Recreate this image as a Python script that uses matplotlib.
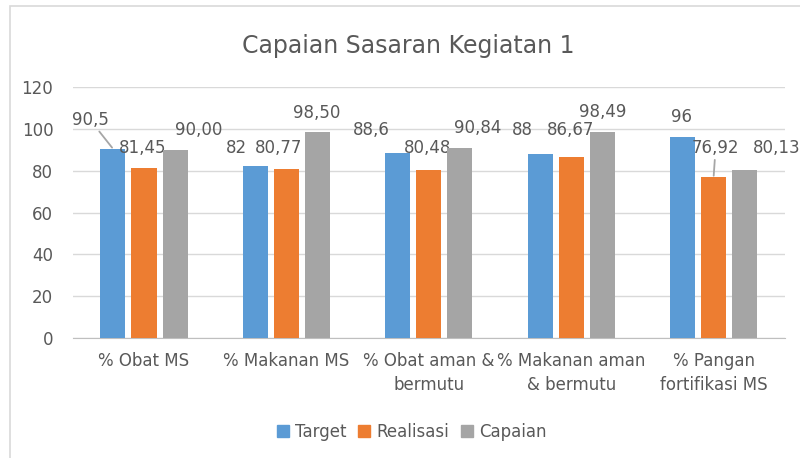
import matplotlib
matplotlib.use("Agg")
import matplotlib.pyplot as plt
from matplotlib.patches import Patch, Rectangle
import numpy as np

categories = ["% Obat MS", "% Makanan MS", "% Obat aman &\nbermutu",
              "% Makanan aman\n& bermutu", "% Pangan\nfortifikasi MS"]
target = [90.5, 82, 88.6, 88, 96]
realisasi = [81.45, 80.77, 80.48, 86.67, 76.92]
capaian = [90.00, 98.50, 90.84, 98.49, 80.13]
series_names = ["Target", "Realisasi", "Capaian"]

colors = ["#5b9bd5", "#ed7d31", "#a5a5a5"]
txt = "#595959"

# label offsets in pixels (dx, dy) from bar top, per series per group
offsets = [
    [(-23, 29), (-19, 18), (-26, 23), (-18, 24), (-1, 20)],
    [(-1, 20), (-8, 21), (-1, 22), (-1, 27), (2, 29)],
    [(24, 20), (-1, 19), (18, 20), (0, 20), (32, 22)],
]
leader = {(0, 0), (1, 4)}


def fmt(v, dec):
    if dec:
        s = "%.2f" % v
    else:
        s = ("%g" % v)
    return s.replace(".", ",")


fig = plt.figure(figsize=(8, 4.58), dpi=100)
ax = fig.add_axes([0.091, 0.262, 0.890, 0.548])

x = np.arange(len(categories))
w = 0.176
step = 0.218
data = [target, realisasi, capaian]
for i, vals in enumerate(data):
    ax.bar(x + (i - 1) * step, vals, w, color=colors[i], zorder=3)
    for j, v in enumerate(vals):
        dx, dy = offsets[i][j]
        kw = {}
        if (i, j) in leader:
            kw["arrowprops"] = dict(arrowstyle="-", color="#a6a6a6", lw=1.3,
                                    shrinkA=0, shrinkB=1)
        ax.annotate(fmt(v, i > 0), (x[j] + (i - 1) * step, v),
                    xytext=(dx, dy), textcoords="offset pixels",
                    ha="center", va="center", fontsize=12, color=txt, **kw)

ax.set_xlim(-0.5, 4.5)
ax.set_ylim(0, 120)
ax.set_yticks(range(0, 121, 20))
ax.yaxis.grid(True, color="#d9d9d9", lw=1, zorder=0)
ax.set_xticks(x)
ax.set_xticklabels(categories, linespacing=1.45)
ax.tick_params(axis="x", length=0, pad=10, labelsize=12, labelcolor=txt)
ax.tick_params(axis="y", length=0, pad=14, labelsize=12, labelcolor=txt)
for s in ["top", "right", "left"]:
    ax.spines[s].set_visible(False)
ax.spines["bottom"].set_color("#bfbfbf")

fig.text(0.51, 0.9, "Capaian Sasaran Kegiatan 1", ha="center", va="center",
         fontsize=17, color=txt)

handles = [Patch(color=c) for c in colors]
fig.legend(handles, series_names, loc="center", bbox_to_anchor=(0.515, 0.057),
           ncol=3, frameon=False, fontsize=12, handlelength=0.7,
           handleheight=0.7, handletextpad=0.4, columnspacing=0.7,
           labelcolor=txt)

fig.patches.append(Rectangle((10 / 800, -0.1), 1.2, 1 - 6 / 458 + 0.1,
                             transform=fig.transFigure, fill=False,
                             edgecolor="#d9d9d9", lw=1.2))

fig.savefig("out.png", dpi=100)
